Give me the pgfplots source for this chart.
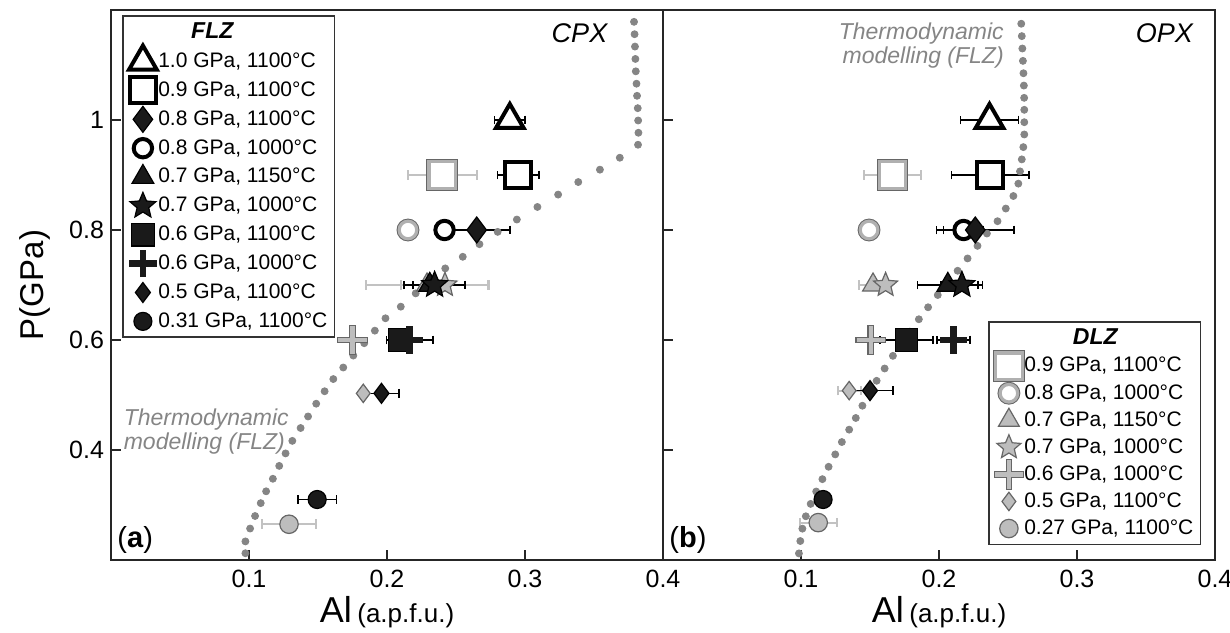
\documentclass[border=0pt]{standalone}
\usepackage{pgfplots}
\pgfplotsset{compat=1.18}
\usepackage{fontspec}
\setmainfont{Liberation Sans}

\definecolor{modgray}{HTML}{858585}
\definecolor{dlzfill}{HTML}{BDBDBD}
\definecolor{dlzring}{HTML}{B0B0B0}
\definecolor{dlzline}{HTML}{666666}
\definecolor{dlzerr}{HTML}{C2C2C2}
\definecolor{flz}{HTML}{1A1A1A}

% filled five-point star
\pgfdeclareplotmark{fstar}{%
  \pgfpathmoveto{\pgfpointpolar{90}{\pgfplotmarksize}}%
  \pgfpathlineto{\pgfpointpolar{126}{0.45\pgfplotmarksize}}%
  \pgfpathlineto{\pgfpointpolar{162}{\pgfplotmarksize}}%
  \pgfpathlineto{\pgfpointpolar{198}{0.45\pgfplotmarksize}}%
  \pgfpathlineto{\pgfpointpolar{234}{\pgfplotmarksize}}%
  \pgfpathlineto{\pgfpointpolar{270}{0.45\pgfplotmarksize}}%
  \pgfpathlineto{\pgfpointpolar{306}{\pgfplotmarksize}}%
  \pgfpathlineto{\pgfpointpolar{342}{0.45\pgfplotmarksize}}%
  \pgfpathlineto{\pgfpointpolar{18}{\pgfplotmarksize}}%
  \pgfpathlineto{\pgfpointpolar{54}{0.45\pgfplotmarksize}}%
  \pgfpathclose
  \pgfusepathqfillstroke}
% DLZ open square: dark rim, light grey ring, white inside
\pgfdeclareplotmark{dsquare}{%
  \pgfsetlinewidth{2.2pt}\pgfsetstrokecolor{dlzline}%
  \pgfpathrectanglecorners{\pgfpoint{-\pgfplotmarksize}{-\pgfplotmarksize}}{\pgfpoint{\pgfplotmarksize}{\pgfplotmarksize}}%
  \pgfusepathqstroke
  \pgfsetlinewidth{1.6pt}\pgfsetstrokecolor{dlzring}\pgfsetfillcolor{white}%
  \pgfpathrectanglecorners{\pgfpoint{-\pgfplotmarksize+0.2pt}{-\pgfplotmarksize+0.2pt}}{\pgfpoint{\pgfplotmarksize-0.2pt}{\pgfplotmarksize-0.2pt}}%
  \pgfusepathqfillstroke}
\pgfdeclareplotmark{dcircle}{%
  \pgfsetlinewidth{2.2pt}\pgfsetstrokecolor{dlzline}%
  \pgfpathcircle{\pgfpointorigin}{\pgfplotmarksize}%
  \pgfusepathqstroke
  \pgfsetlinewidth{1.6pt}\pgfsetstrokecolor{dlzring}\pgfsetfillcolor{white}%
  \pgfpathcircle{\pgfpointorigin}{\pgfplotmarksize-0.2pt}%
  \pgfusepathqfillstroke}
\pgfdeclareplotmark{dcross}{%
  \pgfsetrectcap\pgfsetlinewidth{3.2pt}\pgfsetstrokecolor{dlzline}%
  \pgfpathmoveto{\pgfpoint{-\pgfplotmarksize}{0pt}}\pgfpathlineto{\pgfpoint{\pgfplotmarksize}{0pt}}%
  \pgfpathmoveto{\pgfpoint{0pt}{-\pgfplotmarksize}}\pgfpathlineto{\pgfpoint{0pt}{\pgfplotmarksize}}%
  \pgfusepathqstroke
  \pgfsetlinewidth{2.1pt}\pgfsetstrokecolor{dlzfill}%
  \pgfpathmoveto{\pgfpoint{-\pgfplotmarksize}{0pt}}\pgfpathlineto{\pgfpoint{\pgfplotmarksize}{0pt}}%
  \pgfpathmoveto{\pgfpoint{0pt}{-\pgfplotmarksize}}\pgfpathlineto{\pgfpoint{0pt}{\pgfplotmarksize}}%
  \pgfusepathqstroke}
\pgfdeclareplotmark{fcross}{%
  \pgfsetbuttcap\pgfsetlinewidth{3.4pt}\pgfsetstrokecolor{flz}%
  \pgfpathmoveto{\pgfpoint{-\pgfplotmarksize}{0pt}}\pgfpathlineto{\pgfpoint{\pgfplotmarksize}{0pt}}%
  \pgfpathmoveto{\pgfpoint{0pt}{-\pgfplotmarksize}}\pgfpathlineto{\pgfpoint{0pt}{\pgfplotmarksize}}%
  \pgfusepathqstroke}

\pgfplotsset{
  panel/.style={
    width=276pt, height=275pt, scale only axis,
    xmin=0, xmax=0.4, ymin=0.2, ymax=1.2,
    xtick={0.1,0.2,0.3,0.4}, ytick={0.4,0.6,0.8,1},
    tick align=inside, xtick pos=bottom, ytick pos=left,
    major tick length=5pt,
    axis line style={line width=1.1pt, black!85},
    major tick style={line width=0.9pt, black!85},
    tick label style={font=\fontsize{12.5}{13}\selectfont},
    xticklabel style={yshift=-1.5pt},
    /pgf/number format/assume math mode=true,
    xlabel={{\fontsize{18}{18}\selectfont Al} {\fontsize{13}{13}\selectfont(a.p.f.u.)}},
    xlabel style={at={(axis description cs:0.5,-0.094)}, anchor=center},
    clip=false,
    legend cell align=left,
    legend style={draw=black!80, line width=0.8pt, font=\fontsize{10.5}{12}\selectfont,
      inner sep=1.5pt},
    legend image code/.code={\path[use as bounding box, draw=none, fill=none] (0.1cm,-0.15cm) rectangle (0.5cm,0.15cm);
      \draw[##1] plot coordinates {(0.3cm,0cm)};},
  },
  dots/.style={only marks, mark=*, mark size=1.75pt, color=modgray, forget plot},
  gl/.style={only marks, draw=dlzline, fill=dlzfill, line width=0.6pt},
  fl/.style={only marks, draw=black, fill=flz, line width=0.6pt},
  open/.style={mark options={fill=white, line width=2pt}},
  dlzerr/.style={error bars/x dir=both, error bars/x explicit, error bars/error mark=|,
    error bars/error bar style={line width=1pt, color=dlzerr},
    error bars/error mark options={line width=1pt, color=dlzerr, mark size=2.4pt}},
  flzerr/.style={error bars/x dir=both, error bars/x explicit, error bars/error mark=|,
    error bars/error bar style={line width=0.8pt, color=black},
    error bars/error mark options={line width=0.8pt, color=black, mark size=2.2pt}},
}

\begin{document}
\begin{tikzpicture}
\useasboundingbox (-55.5pt,-36pt) rectangle (559.5pt,280pt);
%% (a) CPX
\begin{axis}[panel, at={(0pt,0pt)}, anchor=south west,
  ylabel={P(GPa)},
  ylabel style={at={(axis description cs:-0.137,0.5)}, anchor=center, font=\fontsize{16.5}{17}\selectfont},
  legend style={at={(0.02,0.991)}, anchor=north west, row sep=1.6pt}]
\addplot[dots] coordinates {
(0.0974,0.2123) (0.0974,0.2338) (0.1008,0.2572) (0.1044,0.2800) (0.1085,0.3034)
(0.1124,0.3249) (0.1173,0.3477) (0.1219,0.3711) (0.1265,0.3938) (0.1314,0.4166)
(0.1374,0.4400) (0.1428,0.4610) (0.1487,0.4842) (0.1548,0.5068) (0.1611,0.5290)
(0.1683,0.5500) (0.1756,0.5717) (0.1835,0.5942) (0.1912,0.6170) (0.1989,0.6395)
(0.2100,0.6606) (0.2208,0.6848) (0.2309,0.7077) (0.2422,0.7302) (0.2549,0.7513)
(0.2670,0.7742) (0.2802,0.7966) (0.2941,0.8190) (0.3090,0.8419) (0.3240,0.8644)
(0.3386,0.8872) (0.3543,0.9097) (0.3687,0.9314) (0.3819,0.9550) (0.3822,0.9768)
(0.3820,0.9991) (0.3817,1.0215) (0.3812,1.0440) (0.3808,1.0660) (0.3803,1.0885)
(0.3800,1.1110) (0.3797,1.1335) (0.3794,1.1560) (0.3790,1.1785)};
% DLZ (grey)
\addplot[gl, forget plot, mark=dsquare, mark size=6.8pt, dlzerr] coordinates {(0.240,0.9) +- (0.025,0)};
\addplot[gl, forget plot, mark=dcircle, mark size=4.6pt] coordinates {(0.2152,0.8)};
\addplot[gl, forget plot, mark=triangle*, mark size=6pt, dlzerr] coordinates {(0.229,0.7) +- (0.044,0)};
\addplot[gl, forget plot, mark=fstar, mark size=6.3pt, dlzerr] coordinates {(0.242,0.7) +- (0.032,0)};
\addplot[gl, forget plot, mark=dcross, mark size=6pt] coordinates {(0.175,0.6)};
\addplot[gl, forget plot, mark=diamond*, mark size=4.6pt] coordinates {(0.1828,0.503)};
\addplot[gl, forget plot, mark=*, mark size=4.6pt, dlzerr] coordinates {(0.129,0.265) +- (0.0195,0)};
% FLZ (black)
\addlegendimage{empty legend}
\addlegendentry{\makebox[54pt][c]{\bfseries\itshape\fontsize{11.5}{12}\selectfont FLZ}}
\addplot[fl, mark=triangle*, mark size=8pt, open, flzerr] coordinates {(0.289,1.0) +- (0.011,0)};
\addlegendentry{1.0 GPa, 1100°C}
\addplot[fl, mark=square*, mark size=6.5pt, open, flzerr] coordinates {(0.295,0.9) +- (0.015,0)};
\addlegendentry{0.9 GPa, 1100°C}
\addplot[fl, mark=diamond*, mark size=6.5pt, flzerr] coordinates {(0.265,0.8) +- (0.024,0)};
\addlegendentry{0.8 GPa, 1100°C}
\addplot[fl, mark=*, mark size=4.6pt, open] coordinates {(0.2417,0.8)};
\addlegendentry{0.8 GPa, 1000°C}
\addplot[fl, mark=triangle*, mark size=6.3pt, flzerr] coordinates {(0.231,0.7) +- (0.012,0)};
\addlegendentry{0.7 GPa, 1150°C}
\addplot[fl, mark=fstar, mark size=6.8pt, flzerr] coordinates {(0.2345,0.7) +- (0.022,0)};
\addlegendentry{0.7 GPa, 1000°C}
\addplot[fl, mark=square*, mark size=5.6pt, flzerr] coordinates {(0.2092,0.6) +- (0.005,0)};
\addlegendentry{0.6 GPa, 1100°C}
\addplot[fl, mark=fcross, mark size=6.8pt, flzerr] coordinates {(0.2165,0.6) +- (0.0168,0)};
\addlegendentry{0.6 GPa, 1000°C}
\addplot[fl, mark=diamond*, mark size=5pt, flzerr] coordinates {(0.196,0.503) +- (0.0125,0)};
\addlegendentry{0.5 GPa, 1100°C}
\addplot[fl, mark=*, mark size=4.5pt, flzerr] coordinates {(0.1494,0.31) +- (0.014,0)};
\addlegendentry{0.31 GPa, 1100°C}
\node[font=\fontsize{13.5}{14}\selectfont\itshape] at (axis cs:0.3395,1.157) {CPX};
\node[anchor=west, align=left, text=modgray, font=\fontsize{11.5}{12}\selectfont\itshape, inner sep=0pt]
  at (axis cs:0.009,0.434) {Thermodynamic\\modelling (FLZ)};
\node[anchor=base west, font=\fontsize{14.5}{15}\selectfont, inner sep=0pt] at (rel axis cs:0.011,0.022) {(\textbf{a})};
\end{axis}
%% (b) OPX
\begin{axis}[panel, at={(276pt,0pt)}, anchor=south west, yticklabels={},
  legend style={at={(0.975,0.027)}, anchor=south east, row sep=0.7pt}]
\addplot[dots] coordinates {
(0.0985,0.2120) (0.0995,0.2345) (0.1010,0.2570) (0.1035,0.2795) (0.1070,0.3020)
(0.1110,0.3245) (0.1155,0.3470) (0.1200,0.3695) (0.1248,0.3920) (0.1296,0.4145)
(0.1349,0.4370) (0.1397,0.4582) (0.1445,0.4805) (0.1493,0.5035) (0.1548,0.5258)
(0.1606,0.5482) (0.1666,0.5712) (0.1727,0.5929) (0.1789,0.6152) (0.1854,0.6377)
(0.1921,0.6595) (0.1991,0.6818) (0.2063,0.7030) (0.2135,0.7259) (0.2207,0.7483)
(0.2279,0.7712) (0.2347,0.7936) (0.2424,0.8160) (0.2484,0.8390) (0.2539,0.8618)
(0.2575,0.8843) (0.2587,0.9066) (0.2600,0.9284) (0.2611,0.9507) (0.2618,0.9737)
(0.2618,0.9960) (0.2618,1.0185) (0.2617,1.0403) (0.2615,1.0626) (0.2612,1.0850)
(0.2608,1.1075) (0.2604,1.1300) (0.2600,1.1525) (0.2596,1.1750)};
% DLZ (grey)
\addlegendimage{empty legend}
\addlegendentry{\makebox[71pt][c]{\bfseries\itshape\fontsize{11.5}{12}\selectfont DLZ}}
\addplot[gl, mark=dsquare, mark size=6.8pt, dlzerr] coordinates {(0.1662,0.9) +- (0.0208,0)};
\addlegendentry{0.9 GPa, 1100°C}
\addplot[gl, mark=dcircle, mark size=4.6pt] coordinates {(0.1493,0.8)};
\addlegendentry{0.8 GPa, 1000°C}
\addplot[gl, mark=triangle*, mark size=6pt, dlzerr] coordinates {(0.1522,0.7) +- (0.01,0)};
\addlegendentry{0.7 GPa, 1150°C}
\addplot[gl, mark=fstar, mark size=6.3pt] coordinates {(0.1613,0.7)};
\addlegendentry{0.7 GPa, 1000°C}
\addplot[gl, mark=dcross, mark size=6pt] coordinates {(0.1505,0.6)};
\addlegendentry{0.6 GPa, 1000°C}
\addplot[gl, mark=diamond*, mark size=4.6pt, dlzerr] coordinates {(0.1349,0.508) +- (0.0084,0)};
\addlegendentry{0.5 GPa, 1100°C}
\addplot[gl, mark=*, mark size=4.6pt, dlzerr] coordinates {(0.1125,0.268) +- (0.0135,0)};
\addlegendentry{0.27 GPa, 1100°C}
% FLZ (black)
\addplot[fl, forget plot, mark=triangle*, mark size=8pt, open, flzerr] coordinates {(0.2366,1.0) +- (0.021,0)};
\addplot[fl, forget plot, mark=square*, mark size=6.5pt, open, flzerr] coordinates {(0.2371,0.9) +- (0.028,0)};
\addplot[fl, forget plot, mark=*, mark size=4.6pt, open, flzerr] coordinates {(0.2178,0.8) +- (0.0145,0)};
\addplot[fl, forget plot, mark=diamond*, mark size=6.5pt, flzerr] coordinates {(0.2263,0.8) +- (0.028,0)};
\addplot[fl, forget plot, mark=triangle*, mark size=6.3pt, flzerr] coordinates {(0.2064,0.7) +- (0.022,0)};
\addplot[fl, forget plot, mark=fstar, mark size=6.8pt, flzerr] coordinates {(0.2166,0.7) +- (0.015,0)};
\addplot[fl, forget plot, mark=square*, mark size=5.6pt, flzerr] coordinates {(0.1765,0.6) +- (0.0193,0)};
\addplot[fl, forget plot, mark=fcross, mark size=6.8pt, flzerr] coordinates {(0.2106,0.6) +- (0.012,0)};
\addplot[fl, forget plot, mark=diamond*, mark size=5pt, flzerr] coordinates {(0.15,0.508) +- (0.0167,0)};
\addplot[fl, forget plot, mark=*, mark size=4.5pt] coordinates {(0.116,0.31)};
\node[font=\fontsize{13.5}{14}\selectfont\itshape] at (axis cs:0.3633,1.157) {OPX};
\node[anchor=east, align=right, text=modgray, font=\fontsize{11.5}{12}\selectfont\itshape, inner sep=0pt]
  at (axis cs:0.2472,1.135) {Thermodynamic\\modelling (FLZ)};
\node[anchor=base west, font=\fontsize{14.5}{15}\selectfont, inner sep=0pt] at (rel axis cs:0.011,0.022) {(\textbf{b})};
\end{axis}
\end{tikzpicture}
\end{document}
